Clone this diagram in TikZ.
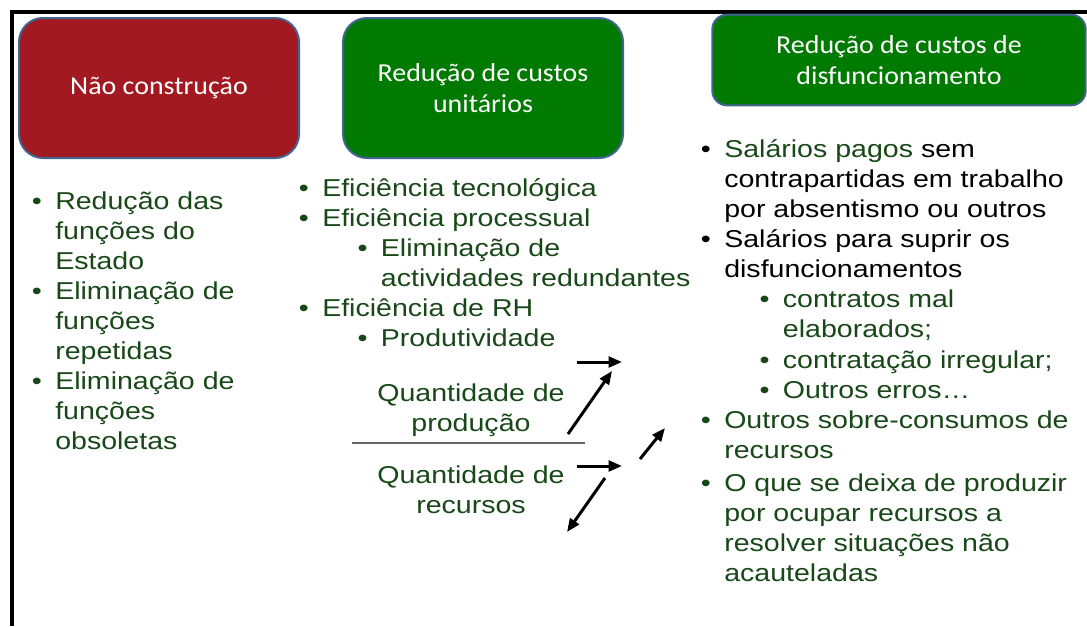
\documentclass[tikz,border=0pt]{standalone}
\usepackage{fontspec}
\usetikzlibrary{arrows.meta}
\newfontfamily\arialw{Liberation Sans}[FakeStretch=1.17]
\newfontfamily\calibw{Carlito}[FakeStretch=1.08]
\definecolor{txtgreen}{RGB}{24,72,24}
\definecolor{boxred}{RGB}{163,25,34}
\definecolor{boxgreen}{RGB}{0,122,0}
\definecolor{boxline}{RGB}{65,100,145}
\newcommand{\bul}{\llap{\textbullet\hspace{10pt}}}
\newcommand{\subin}{\hspace*{44pt}}

\begin{document}
\begin{tikzpicture}[x=0.75pt, y=-0.75pt,
    headbox/.style={rounded corners=18pt, draw=boxline, line width=1.5pt,
      text=white, align=center, font=\calibw\fontsize{19.4}{23.5}\selectfont},
    listtext/.style={anchor=base west, inner sep=0pt, align=left,
      text=txtgreen, font=\arialw\fontsize{18.3}{22.5}\selectfont},
    fractext/.style={anchor=base, inner sep=0pt, align=center,
      text=txtgreen, font=\arialw\fontsize{18.3}{22.5}\selectfont},
    bigarrow/.style={-{Triangle[length=10pt,width=8pt]}, line width=2.25pt}]

      \useasboundingbox (0,0) rectangle (1087,626);
      \draw [line width=3pt] (12,626) -- (12,12) -- (1087,12);

      \node [headbox, fill=boxred, minimum width=210pt, minimum height=105pt]
            (naocons)  at (159,88) {Não construção};
      \node [headbox, fill=boxgreen, minimum width=210pt, minimum height=105pt]
            (unit)  at (483,88) {Redução de custos\\unitários};
      \node [headbox, fill=boxgreen, rounded corners=11pt, minimum width=280pt, minimum height=68pt]
            (disf)  at (899,60) {Redução de custos de\\disfuncionamento};

      \node [listtext]  (listleft)  at (55,449)
            {\bul Redução das\\funções do\\Estado\\
             \bul Eliminação de\\funções\\repetidas\\
             \bul Eliminação de\\funções\\obsoletas};

      \node [listtext]  (listmid)  at (322,346)
            {\bul Eficiência tecnológica\\
             \bul Eficiência processual\\
             \subin\bul Eliminação de\\
             \subin actividades redundantes\\
             \bul Eficiência de RH\\
             \subin\bul Produtividade};

      \node [listtext, text=black]  (listright)  at (724,277)
            {\bul\textcolor{txtgreen}{Salários pagos} sem\\contrapartidas em trabalho\\por absentismo ou outros\\
             \bul Salários para suprir os\\disfuncionamentos};
      \node [listtext]  (listright2)  at (724,581)
            {\subin\bul contratos mal\\
             \subin elaborados;\\[1pt]
             \subin\bul contratação irregular;\\
             \subin\bul Outros erros\dots\\
             \bul Outros sobre-consumos de\\recursos\\[2pt]
             \bul O que se deixa de produzir\\por ocupar recursos a\\resolver situações não\\acauteladas};

      \node [fractext]  (qprod)  at (471,431) {Quantidade de\\produção};
      \node [fractext]  (qrec)   at (471,513) {Quantidade de\\recursos};
      \coordinate (fracl) at (352,443);
      \coordinate (fracr) at (585,443);
      \draw [line width=1.2pt, gray!80!black]  (fracl) to (fracr);

      \coordinate (a1s) at (577,362);  \coordinate (a1e) at (622,362);
      \coordinate (a2s) at (568,434);  \coordinate (a2e) at (612,371);
      \coordinate (a3s) at (640,459);  \coordinate (a3e) at (665,428);
      \coordinate (a4s) at (577,466);  \coordinate (a4e) at (622,466);
      \coordinate (a5s) at (605,478);  \coordinate (a5e) at (567,532);
      \draw [bigarrow] (a1s) to (a1e);
      \draw [bigarrow] (a2s) to (a2e);
      \draw [bigarrow] (a3s) to (a3e);
      \draw [bigarrow] (a4s) to (a4e);
      \draw [bigarrow] (a5s) to (a5e);
    \end{tikzpicture}
\end{document}
